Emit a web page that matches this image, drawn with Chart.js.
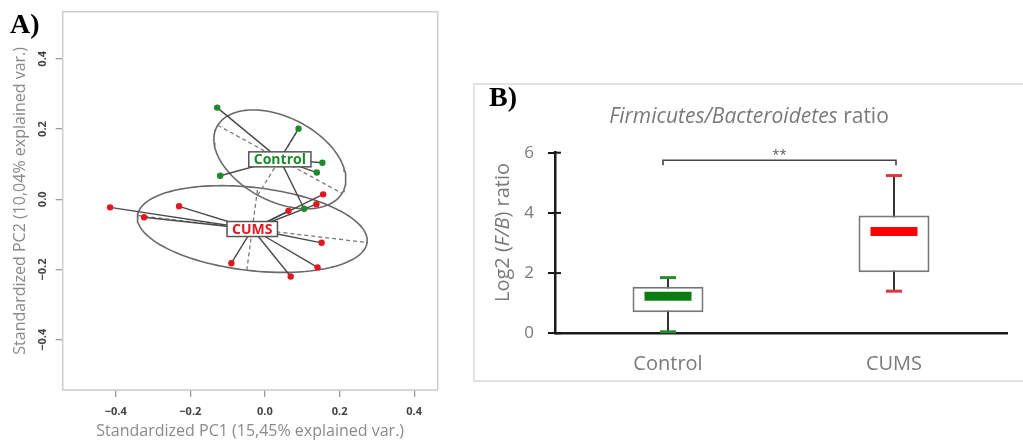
<!DOCTYPE html>
<html>
<head>
<meta charset="utf-8">
<script src="https://cdn.jsdelivr.net/npm/chart.js@4.4.1/dist/chart.umd.min.js"></script>
<style>
  html, body { margin: 0; padding: 0; background: #fff; width: 1023px; height: 441px; overflow: hidden; }
  .panel-tag { position: absolute; font: bold 28px 'Liberation Serif', 'Times New Roman', serif; line-height: 1; color: #000; }
  #pcaCanvas { position: absolute; left: 0; top: 0; }
  #boxFrame { position: absolute; left: 473px; top: 83px; width: 560px; height: 299px; box-sizing: border-box; border: 2px solid #e2e2e2; }
  #ratioCanvas { position: absolute; left: 474px; top: 84px; }
</style>
</head>
<body>
<canvas id="pcaCanvas" width="465" height="441"></canvas>
<div id="boxFrame"></div>
<canvas id="ratioCanvas" width="549" height="297"></canvas>
<div class="panel-tag" style="left:10px; top:10px;">A)</div>
<div class="panel-tag" style="left:489px; top:83px;">B)</div>

<script>
/* ─── Panel A data: PCA scores per sample ─── */
const CONTROL_PC1 = [-0.128, 0.090, 0.154, 0.139, -0.120, 0.105];
const CONTROL_PC2 = [0.261, 0.201, 0.104, 0.076, 0.067, -0.027];
const CUMS_PC1 = [-0.415, -0.324, -0.230, -0.090, 0.069, 0.141, 0.152, 0.156, 0.138, 0.063];
const CUMS_PC2 = [-0.023, -0.051, -0.020, -0.182, -0.220, -0.194, -0.124, 0.014, -0.014, -0.033];
const PCA_TICKS = [-0.4, -0.2, 0, 0.2, 0.4];
const PCA_TICK_LABELS = ['\u22120.4', '\u22120.2', '0.0', '0.2', '0.4'];
const PC1_RANGE = [-0.542, 0.463];
const PC2_RANGE = [-0.543, 0.534];
const ELLIPSE_SCALE = 1.5;   // s.class default cellipse

/* ─── Panel B data: log2 F/B ratio box plot ─── */
const GROUPS = ['Control', 'CUMS'];
const WHISKER_LOW = [0.05, 1.40];
const Q1 = [0.70, 2.03];
const MEDIAN = [1.23, 3.38];
const Q3 = [1.55, 3.91];
const WHISKER_HIGH = [1.85, 5.24];
const SIG_LEVEL = 5.75;
const SIG_LABEL = '**';

const GREEN = '#1e8a2a';
const RED = '#e3171f';
const FONT = "'Open Sans', 'DejaVu Sans', sans-serif";

/* ─── helpers ─── */

// mean, covariance and principal axes of one group (ellipse like ade4 s.class)
function groupShape(xs, ys) {
  const n = xs.length;
  const mx = xs.reduce((a, b) => a + b, 0) / n;
  const my = ys.reduce((a, b) => a + b, 0) / n;
  let vx = 0, vy = 0, cxy = 0;
  for (let i = 0; i < n; i++) {
    vx += (xs[i] - mx) ** 2; vy += (ys[i] - my) ** 2; cxy += (xs[i] - mx) * (ys[i] - my);
  }
  vx /= n; vy /= n; cxy /= n;
  const half = (vx + vy) / 2;
  const disc = Math.sqrt(((vx - vy) / 2) ** 2 + cxy ** 2);
  const theta = 0.5 * Math.atan2(2 * cxy, vx - vy);
  return {
    mx, my, theta,
    a: ELLIPSE_SCALE * Math.sqrt(half + disc),
    b: ELLIPSE_SCALE * Math.sqrt(Math.max(half - disc, 0)),
  };
}

function ellipsePath(g) {
  const pts = [];
  const c = Math.cos(g.theta), s = Math.sin(g.theta);
  for (let k = 0; k <= 120; k++) {
    const t = (k / 120) * 2 * Math.PI;
    const u = g.a * Math.cos(t), v = g.b * Math.sin(t);
    pts.push({ x: g.mx + u * c - v * s, y: g.my + u * s + v * c });
  }
  return pts;
}

function ellipseAxes(g) {
  const c = Math.cos(g.theta), s = Math.sin(g.theta);
  return [
    [{ x: g.mx - g.a * c, y: g.my - g.a * s }, { x: g.mx + g.a * c, y: g.my + g.a * s }],
    [{ x: g.mx + g.b * s, y: g.my - g.b * c }, { x: g.mx - g.b * s, y: g.my + g.b * c }],
  ];
}

function groupDatasets(xs, ys, color) {
  const g = groupShape(xs, ys);
  const sets = [];
  sets.push({ data: ellipsePath(g), showLine: true, borderColor: '#6a6a6a', borderWidth: 1.6, pointRadius: 0, order: 4 });
  ellipseAxes(g).forEach(seg => sets.push({
    data: seg, showLine: true, borderColor: '#7a7a7a', borderWidth: 1.3, borderDash: [4, 3], pointRadius: 0, order: 3,
  }));
  xs.forEach((x, i) => sets.push({
    data: [{ x: g.mx, y: g.my }, { x, y: ys[i] }], showLine: true, borderColor: '#4a4a4a', borderWidth: 1.4, pointRadius: 0, order: 2,
  }));
  sets.push({
    data: xs.map((x, i) => ({ x, y: ys[i] })), pointRadius: 3.2, pointBackgroundColor: color,
    pointBorderColor: color, pointBorderWidth: 0, order: 1,
  });
  return { sets, center: g };
}

function drawRuns(ctx, runs, cx, cy) {
  let total = 0;
  runs.forEach(r => { ctx.font = r.font; r.w = ctx.measureText(r.text).width; total += r.w; });
  let x = cx - total / 2;
  ctx.textAlign = 'left';
  ctx.textBaseline = 'middle';
  runs.forEach(r => { ctx.font = r.font; ctx.fillText(r.text, x, cy); x += r.w; });
}

/* ─── Panel A: PCA ─── */

const control = groupDatasets(CONTROL_PC1, CONTROL_PC2, GREEN);
const cums = groupDatasets(CUMS_PC1, CUMS_PC2, RED);
const classLabels = [
  { text: 'Control', color: GREEN, center: control.center },
  { text: 'CUMS', color: RED, center: cums.center },
];

const pcaDecor = {
  id: 'pcaDecor',
  beforeDatasetsDraw(chart) {
    const { ctx, chartArea: a } = chart;
    ctx.save();
    ctx.strokeStyle = '#cfcfcf';
    ctx.lineWidth = 1.6;
    ctx.strokeRect(a.left, a.top, a.right - a.left, a.bottom - a.top);
    ctx.restore();
  },
  afterDatasetsDraw(chart) {
    const { ctx, scales: { x, y } } = chart;
    ctx.save();
    ctx.font = `bold 14px ${FONT}`;
    classLabels.forEach(l => {
      const px = x.getPixelForValue(l.center.mx), py = y.getPixelForValue(l.center.my);
      const w = ctx.measureText(l.text).width + 10, h = 15;
      ctx.fillStyle = '#fff';
      ctx.fillRect(px - w / 2, py - h / 2, w, h);
      ctx.strokeStyle = '#555';
      ctx.lineWidth = 1.5;
      ctx.strokeRect(px - w / 2, py - h / 2, w, h);
      ctx.fillStyle = l.color;
      ctx.textAlign = 'center';
      ctx.textBaseline = 'middle';
      ctx.fillText(l.text, px, py + 0.5);
    });
    // rotated y tick labels
    ctx.font = `bold 11px ${FONT}`;
    ctx.fillStyle = '#444';
    PCA_TICKS.forEach((v, i) => {
      ctx.save();
      ctx.translate(43, y.getPixelForValue(v));
      ctx.rotate(-Math.PI / 2);
      ctx.textAlign = 'center';
      ctx.textBaseline = 'middle';
      ctx.fillText(PCA_TICK_LABELS[i], 0, 0);
      ctx.restore();
    });
    ctx.restore();
  },
};

new Chart(document.getElementById('pcaCanvas'), {
  type: 'scatter',
  data: { datasets: [...control.sets, ...cums.sets] },
  options: {
    responsive: false,
    animation: false,
    layout: { padding: { left: 0, right: 27.3, top: 11.7, bottom: 0 } },
    plugins: { legend: { display: false }, tooltip: { enabled: false } },
    scales: {
      x: {
        type: 'linear', min: PC1_RANGE[0], max: PC1_RANGE[1],
        afterBuildTicks: s => { s.ticks = PCA_TICKS.map(v => ({ value: v })); },
        afterFit: s => { s.height = 51; },
        grid: { drawOnChartArea: false, tickLength: 7, color: '#9a9a9a', lineWidth: 1.3 },
        border: { display: false },
        ticks: { callback: (v, i) => PCA_TICK_LABELS[i], color: '#444', padding: 8, maxRotation: 0,
          font: { family: FONT, size: 11, weight: 'bold' } },
        title: { display: true, text: 'Standardized PC1 (15,45% explained var.)', color: '#8a8a8a',
          font: { family: FONT, size: 16 }, padding: { top: 0, bottom: 0 } },
      },
      y: {
        type: 'linear', min: PC2_RANGE[0], max: PC2_RANGE[1],
        afterBuildTicks: s => { s.ticks = PCA_TICKS.map(v => ({ value: v })); },
        afterFit: s => { s.width = 62.7; },
        grid: { drawOnChartArea: false, tickLength: 7, color: '#9a9a9a', lineWidth: 1.3 },
        border: { display: false },
        ticks: { display: false },
        title: { display: true, text: 'Standardized PC2 (10,04% explained var.)', color: '#8a8a8a',
          font: { family: FONT, size: 16 }, padding: { top: 11, bottom: 0 } },
      },
    },
  },
  plugins: [pcaDecor],
});

/* ─── Panel B: box plot ─── */

const MEDIAN_COLORS = ['#0b7d12', '#ff0000'];
const CAP_COLORS = ['#2a8a34', '#d9383e'];

const boxDecor = {
  id: 'boxDecor',
  beforeDatasetsDraw(chart) {
    const { ctx, scales: { x, y } } = chart;
    ctx.save();
    ctx.strokeStyle = '#333';
    ctx.lineWidth = 2;
    GROUPS.forEach((_, i) => {
      const px = x.getPixelForValue(i);
      ctx.beginPath();
      ctx.moveTo(px, y.getPixelForValue(WHISKER_LOW[i]));
      ctx.lineTo(px, y.getPixelForValue(WHISKER_HIGH[i]));
      ctx.stroke();
    });
    ctx.restore();
  },
  afterDatasetsDraw(chart) {
    const { ctx, chartArea: a, scales: { x, y } } = chart;
    ctx.save();
    GROUPS.forEach((_, i) => {
      const px = x.getPixelForValue(i);
      // caps
      ctx.strokeStyle = CAP_COLORS[i];
      ctx.lineWidth = 3;
      [WHISKER_LOW[i], WHISKER_HIGH[i]].forEach(v => {
        const py = y.getPixelForValue(v);
        ctx.beginPath(); ctx.moveTo(px - 8, py); ctx.lineTo(px + 8, py); ctx.stroke();
      });
      // median
      ctx.strokeStyle = MEDIAN_COLORS[i];
      ctx.lineWidth = 9;
      const pm = y.getPixelForValue(MEDIAN[i]);
      ctx.beginPath(); ctx.moveTo(px - 23.5, pm); ctx.lineTo(px + 23.5, pm); ctx.stroke();
    });
    // significance bracket
    const x0 = x.getPixelForValue(0) - 5, x1 = x.getPixelForValue(1) + 2;
    const ys = y.getPixelForValue(SIG_LEVEL);
    ctx.strokeStyle = '#444';
    ctx.lineWidth = 1.6;
    ctx.beginPath();
    ctx.moveTo(x0, ys + 5); ctx.lineTo(x0, ys); ctx.lineTo(x1, ys); ctx.lineTo(x1, ys + 5);
    ctx.stroke();
    ctx.fillStyle = '#555';
    ctx.font = `13px ${FONT}`;
    ctx.textAlign = 'center';
    ctx.textBaseline = 'middle';
    ctx.fillText(SIG_LABEL, (x0 + x1) / 2, ys - 5);
    // inner half of the crossing y ticks
    ctx.strokeStyle = '#1a1a1a';
    ctx.lineWidth = 2;
    y.ticks.forEach(t => {
      const py = y.getPixelForValue(t.value);
      ctx.beginPath(); ctx.moveTo(a.left, py); ctx.lineTo(a.left + 6, py); ctx.stroke();
    });
    // titles with italic taxa
    ctx.fillStyle = '#7a7a7a';
    drawRuns(ctx, [
      { text: 'Firmicutes/Bacteroidetes', font: `italic 21px ${FONT}` },
      { text: ' ratio', font: `21px ${FONT}` },
    ], 275, 33);
    ctx.translate(29.5, 148.5);
    ctx.rotate(-Math.PI / 2);
    drawRuns(ctx, [
      { text: 'Log2 (', font: `20px ${FONT}` },
      { text: 'F/B', font: `italic 20px ${FONT}` },
      { text: ') ratio', font: `20px ${FONT}` },
    ], 0, 0);
    ctx.restore();
  },
};

new Chart(document.getElementById('ratioCanvas'), {
  type: 'bar',
  data: {
    labels: GROUPS,
    datasets: [{
      data: GROUPS.map((_, i) => [Q1[i], Q3[i]]),
      backgroundColor: '#fff',
      borderColor: '#777',
      borderWidth: 2,
      borderSkipped: false,
      categoryPercentage: 1,
      barPercentage: 0.314,
    }],
  },
  options: {
    responsive: false,
    animation: false,
    layout: { padding: { left: 0, right: 16, top: 68.7, bottom: 0 } },
    plugins: { legend: { display: false }, tooltip: { enabled: false } },
    scales: {
      x: {
        afterFit: s => { s.height = 47.7; },
        grid: { drawOnChartArea: false, drawTicks: false },
        border: { color: '#1a1a1a', width: 2.5 },
        ticks: { color: '#7a7a7a', padding: 19, font: { family: FONT, size: 20 } },
      },
      y: {
        min: 0, max: 6,
        afterFit: s => { s.width = 81; },
        grid: { drawOnChartArea: false, tickLength: 7, color: '#1a1a1a', lineWidth: 2 },
        border: { color: '#1a1a1a', width: 2.5 },
        ticks: { stepSize: 2, color: '#7a7a7a', padding: 14, font: { family: FONT, size: 17 } },
      },
    },
  },
  plugins: [boxDecor],
});
</script>
</body>
</html>
